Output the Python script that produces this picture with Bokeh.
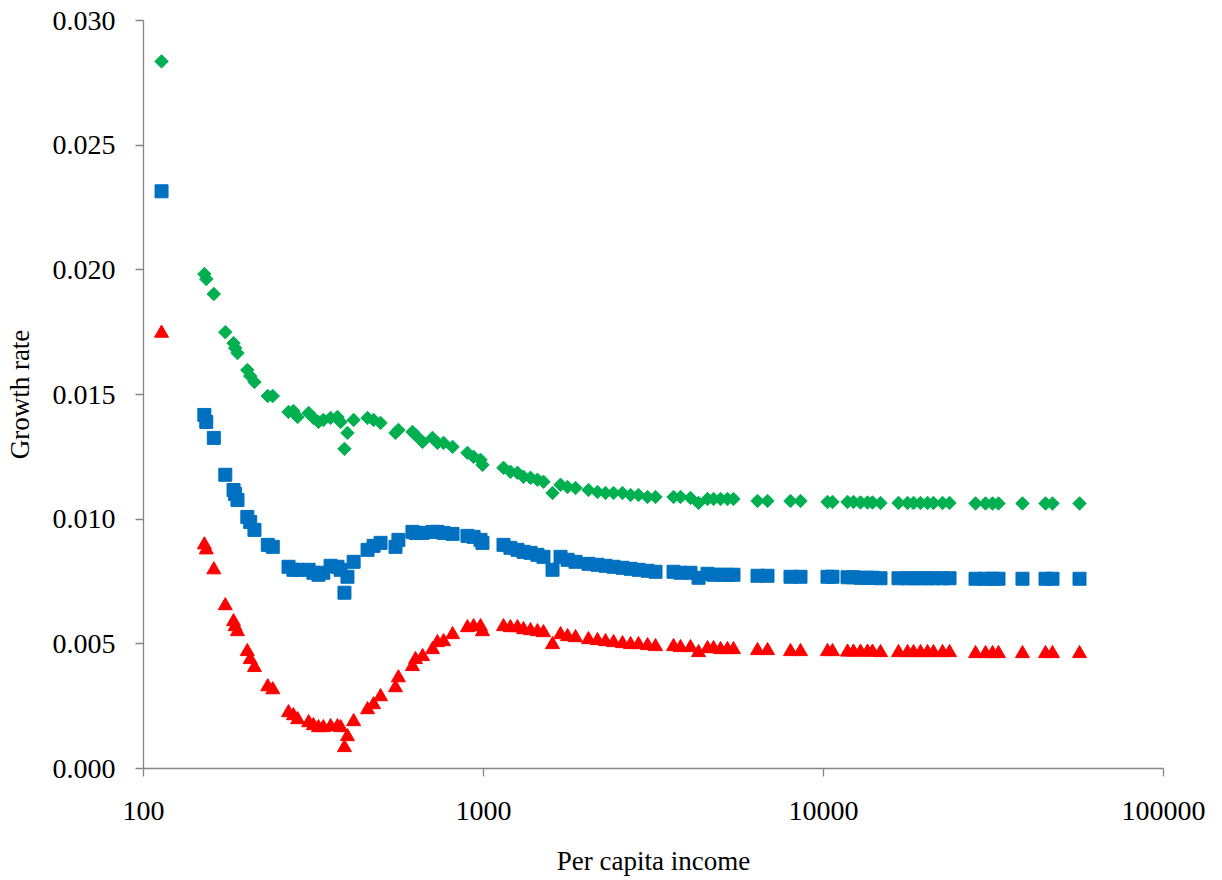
from bokeh.plotting import figure
from bokeh.models import Range1d, FixedTicker, PrintfTickFormatter, ColumnDataSource
from bokeh.embed import file_html
from bokeh.resources import INLINE
import math

# Per capita income (shared by the three series)
income = [113, 151, 153, 161, 174, 184, 186, 189, 202, 206, 212, 232, 240,
          267, 276, 284, 306, 316, 327, 338, 355, 372, 380, 390, 398, 415,
          456, 475, 498, 551, 562, 618, 631, 662, 708, 732, 763, 811, 897,
          935, 980, 993, 1145, 1200, 1259, 1311, 1375, 1441, 1501, 1596,
          1685, 1767, 1865, 2036, 2164, 2285, 2413, 2563, 2707, 2857, 3037,
          3206, 3622, 3797, 4062, 4290, 4559, 4749, 4979, 5218, 5436, 6396,
          6845, 7997, 8557, 10275, 10629, 11766, 12253, 12847, 13471, 13935,
          14712, 16620, 17670, 18400, 19290, 20230, 21060, 22390, 23480,
          28000, 29960, 31420, 32710, 38480, 44980, 47150, 56620]

growth_green = [0.02836, 0.01983, 0.01963, 0.01903, 0.01750, 0.01706, 0.01686,
                0.01666, 0.01598, 0.01574, 0.01550, 0.01494, 0.01494, 0.01430,
                0.01434, 0.01410, 0.01426, 0.01406, 0.01390, 0.01398, 0.01406,
                0.01410, 0.01390, 0.01282, 0.01346, 0.01398, 0.01406, 0.01398,
                0.01386, 0.01346, 0.01358, 0.01350, 0.01338, 0.01310, 0.01326,
                0.01306, 0.01306, 0.01290, 0.01266, 0.01250, 0.01238, 0.01218,
                0.01206, 0.01190, 0.01186, 0.01170, 0.01166, 0.01158, 0.01150,
                0.01105, 0.01138, 0.01129, 0.01125, 0.01117, 0.01109, 0.01105,
                0.01105, 0.01105, 0.01097, 0.01097, 0.01089, 0.01089, 0.01089,
                0.01089, 0.01085, 0.01065, 0.01081, 0.01081, 0.01081, 0.01081,
                0.01081, 0.01073, 0.01073, 0.01073, 0.01073, 0.01069, 0.01069,
                0.01069, 0.01069, 0.01067, 0.01067, 0.01067, 0.01065, 0.01065,
                0.01065, 0.01065, 0.01065, 0.01065, 0.01065, 0.01065, 0.01065,
                0.01063, 0.01063, 0.01063, 0.01063, 0.01063, 0.01063, 0.01063,
                0.01063]

growth_blue = [0.02315, 0.01418, 0.01390, 0.01326, 0.01178, 0.01117, 0.01101,
               0.01077, 0.01009, 0.00989, 0.00957, 0.00897, 0.00889, 0.00809,
               0.00797, 0.00797, 0.00797, 0.00785, 0.00777, 0.00785, 0.00813,
               0.00809, 0.00797, 0.00705, 0.00769, 0.00829, 0.00877, 0.00893,
               0.00905, 0.00889, 0.00917, 0.00949, 0.00945, 0.00945, 0.00949,
               0.00949, 0.00945, 0.00941, 0.00933, 0.00929, 0.00917, 0.00905,
               0.00897, 0.00885, 0.00877, 0.00869, 0.00865, 0.00857, 0.00849,
               0.00797, 0.00849, 0.00837, 0.00829, 0.00821, 0.00817, 0.00813,
               0.00809, 0.00805, 0.00801, 0.00797, 0.00793, 0.00789, 0.00789,
               0.00785, 0.00785, 0.00765, 0.00781, 0.00777, 0.00777, 0.00777,
               0.00777, 0.00773, 0.00773, 0.00769, 0.00769, 0.00769, 0.00769,
               0.00767, 0.00767, 0.00765, 0.00765, 0.00765, 0.00763, 0.00763,
               0.00763, 0.00763, 0.00763, 0.00763, 0.00763, 0.00763, 0.00763,
               0.00761, 0.00761, 0.00761, 0.00761, 0.00761, 0.00761, 0.00761,
               0.00761]

growth_red = [0.01746, 0.00897, 0.00877, 0.00797, 0.00653, 0.00589, 0.00569,
              0.00549, 0.00469, 0.00437, 0.00405, 0.00328, 0.00316, 0.00224,
              0.00212, 0.00196, 0.00184, 0.00172, 0.00164, 0.00164, 0.00168,
              0.00168, 0.00164, 0.00084, 0.00128, 0.00188, 0.00236, 0.00256,
              0.00288, 0.00324, 0.00364, 0.00409, 0.00437, 0.00449, 0.00477,
              0.00505, 0.00509, 0.00537, 0.00565, 0.00569, 0.00569, 0.00549,
              0.00569, 0.00565, 0.00565, 0.00557, 0.00553, 0.00549, 0.00545,
              0.00497, 0.00537, 0.00529, 0.00525, 0.00517, 0.00513, 0.00509,
              0.00505, 0.00501, 0.00497, 0.00497, 0.00493, 0.00489, 0.00489,
              0.00485, 0.00485, 0.00465, 0.00481, 0.00481, 0.00477, 0.00477,
              0.00477, 0.00473, 0.00473, 0.00469, 0.00469, 0.00469, 0.00469,
              0.00467, 0.00467, 0.00467, 0.00467, 0.00467, 0.00465, 0.00465,
              0.00465, 0.00465, 0.00465, 0.00465, 0.00465, 0.00465, 0.00465,
              0.00461, 0.00461, 0.00461, 0.00461, 0.00461, 0.00461, 0.00461,
              0.00461]

x_ticks = [100, 1000, 10000, 100000]
y_ticks = [0.000, 0.005, 0.010, 0.015, 0.020, 0.025, 0.030]

FONT = "Liberation Serif"
AXIS_GREY = "#868686"

src = ColumnDataSource(dict(x=income, g=growth_green, b=growth_blue, r=growth_red))

p = figure(width=1208, height=878, x_axis_type="log",
           x_range=Range1d(100, 100000), y_range=Range1d(0, 0.030),
           output_backend="svg", toolbar_location=None,
           min_border_left=143, min_border_right=45,
           min_border_top=20, min_border_bottom=109)
p.outline_line_color = None
p.grid.visible = False
p.background_fill_color = "white"
p.border_fill_color = "white"

p.scatter("x", "g", source=src, marker="square", angle=math.pi / 4, size=9.5,
          fill_color="#00B050", line_color="#00B050")
p.scatter("x", "b", source=src, marker="square", size=13,
          fill_color="#0070C0", line_color="#0070C0")
p.scatter("x", "r", source=src, marker="triangle", size=14,
          fill_color="#FF0000", line_color="#FF0000")

xa = p.xaxis[0]
xa.ticker = FixedTicker(ticks=x_ticks, minor_ticks=[])
xa.formatter = PrintfTickFormatter(format="%d")
ya = p.yaxis[0]
ya.ticker = FixedTicker(ticks=y_ticks, minor_ticks=[])
ya.formatter = PrintfTickFormatter(format="%.3f")

for ax in (xa, ya):
    ax.axis_line_color = AXIS_GREY
    ax.axis_line_width = 1.3
    ax.major_tick_line_color = AXIS_GREY
    ax.major_tick_line_width = 1.3
    ax.major_tick_out = 8
    ax.major_tick_in = 0
    ax.minor_tick_line_color = None
    ax.major_label_text_font = FONT
    ax.major_label_text_font_size = "28px"
    ax.major_label_text_color = "black"
    ax.axis_label_text_font = FONT
    ax.axis_label_text_font_size = "27px"
    ax.axis_label_text_font_style = "normal"
    ax.axis_label_text_color = "black"

xa.axis_label = "Per capita income"
ya.axis_label = "Growth rate"
xa.major_label_standoff = 25
ya.major_label_standoff = 20
xa.axis_label_standoff = 23
ya.axis_label_standoff = 15

open("out.html", "w").write(file_html(p, INLINE))
